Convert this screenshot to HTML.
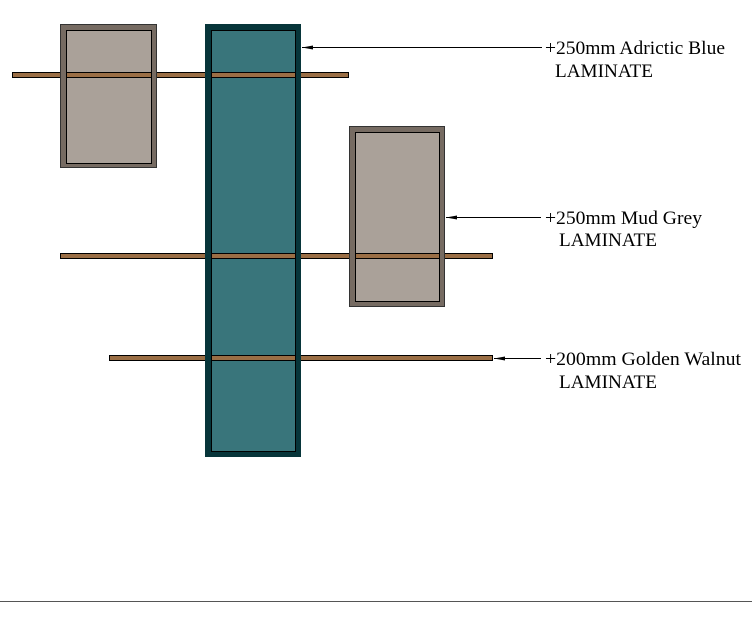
<!DOCTYPE html>
<html><head><style>body{margin:0;background:#fff}svg{display:block}text{font-family:"Liberation Serif",serif;font-size:19px;fill:#000}</style></head>
<body>
<svg width="752" height="617" viewBox="0 0 752 617">
<rect x="66.5" y="30.5" width="85" height="133" fill="#aaa199" stroke="#000"/>
<rect x="211.5" y="30.5" width="84" height="421" fill="#39757b" stroke="#000"/>
<rect x="355.5" y="132.5" width="84" height="169" fill="#aaa199" stroke="#000"/>
<rect x="12.5" y="72.5" width="336" height="5" fill="#9a6e45" stroke="#000"/>
<rect x="60.5" y="253.5" width="432" height="5" fill="#9a6e45" stroke="#000"/>
<rect x="109.5" y="355.5" width="383" height="5" fill="#9a6e45" stroke="#000"/>
<path d="M60,24H157V168H60Z M66,30V163H151V30Z" fill="#766b62" fill-rule="evenodd"/>
<rect x="60.5" y="24.5" width="96" height="143" fill="none" stroke="#333" stroke-width="1"/>
<rect x="66.5" y="30.5" width="85" height="133" fill="none" stroke="#000"/>
<path d="M205,24H301V457H205Z M211,30V451H295V30Z" fill="#07353a" fill-rule="evenodd"/>
<rect x="211.5" y="30.5" width="84" height="421" fill="none" stroke="#000"/>
<path d="M349,126H445V307H349Z M355,132V301H439V132Z" fill="#766b62" fill-rule="evenodd"/>
<rect x="349.5" y="126.5" width="95" height="180" fill="none" stroke="#333"/>
<rect x="355.5" y="132.5" width="84" height="169" fill="none" stroke="#000"/>
<g stroke="#000" stroke-width="1">
<line x1="302" y1="47.5" x2="542" y2="47.5"/>
<line x1="446" y1="217.5" x2="541" y2="217.5"/>
<line x1="494" y1="358.5" x2="541" y2="358.5"/>
</g>
<g fill="#000">
<path d="M302,47.5 L313,45.5 L313,49.5Z"/>
<path d="M446,217.5 L457,215.5 L457,219.5Z"/>
<path d="M494,358.5 L505,356.5 L505,360.5Z"/>
</g>
<text x="545" y="54" textLength="180" lengthAdjust="spacingAndGlyphs">+250mm Adrictic Blue</text>
<text x="555" y="77" textLength="98" lengthAdjust="spacingAndGlyphs">LAMINATE</text>
<text x="545" y="224" textLength="157" lengthAdjust="spacingAndGlyphs">+250mm Mud Grey</text>
<text x="559" y="246" textLength="98" lengthAdjust="spacingAndGlyphs">LAMINATE</text>
<text x="545" y="365" textLength="196" lengthAdjust="spacingAndGlyphs">+200mm Golden Walnut</text>
<text x="559" y="388" textLength="98" lengthAdjust="spacingAndGlyphs">LAMINATE</text>
<line x1="0" y1="601.5" x2="752" y2="601.5" stroke="#555"/>
</svg>
</body></html>
